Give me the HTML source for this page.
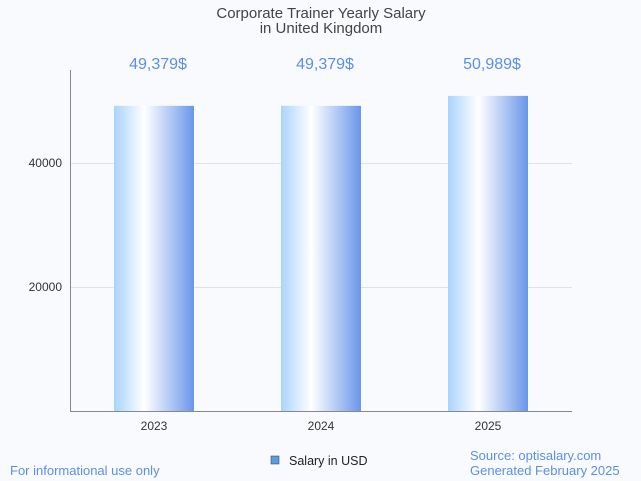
<!DOCTYPE html>
<html><head><meta charset="utf-8"><style>
body{margin:0;background:#f9fafe;font-family:"Liberation Sans",sans-serif;}
svg{display:block}
</style></head><body>
<svg id="c" width="641" height="481">
<defs><linearGradient id="g" x1="0" x2="1" y1="0" y2="0">
<stop offset="0" stop-color="#a9d4fd"/><stop offset="0.38" stop-color="#ffffff"/><stop offset="1" stop-color="#6a96ea"/>
</linearGradient></defs>
<rect width="641" height="481" fill="#f9fafe"/>
<text x="321" y="18" text-anchor="middle" font-size="15" fill="#444">Corporate Trainer Yearly Salary</text>
<text x="321" y="33" text-anchor="middle" font-size="15" fill="#444">in United Kingdom</text>
<g id="grid"></g><g id="bars"></g>
<line x1="70.5" y1="70" x2="70.5" y2="411.5" stroke="#888"/>
<line x1="70" y1="411.5" x2="572" y2="411.5" stroke="#888"/>
<rect x="271" y="456" width="8" height="8" fill="#5b9be0" stroke="#335" stroke-width="0.5"/>
<text x="289" y="465" font-size="12.5" fill="#222">Salary in USD</text>
<text x="10" y="475" font-size="13" fill="#5b8fe6">For informational use only</text>
<text x="470" y="460" font-size="13" fill="#5b8fe6">Source: optisalary.com</text>
<text x="470" y="475" font-size="13" fill="#5b8fe6">Generated February 2025</text>
</svg>
<script>
const categories=["2023","2024","2025"];
const values=[49379,49379,50989];
const labels=["49,379$","49,379$","50,989$"];
const ticks=[20000,40000];
const y=v=>411-v*(124/20000);
const x=i=>154+i*167;
const ns="http://www.w3.org/2000/svg";
const grid=document.getElementById("grid"),bars=document.getElementById("bars");
function mk(tag,attrs,parent){const e=document.createElementNS(ns,tag);for(const k in attrs)e.setAttribute(k,attrs[k]);parent.appendChild(e);return e;}
ticks.forEach(t=>{
 const l=mk("line",{x1:70,x2:572,y1:Math.round(y(t))+0.5,y2:Math.round(y(t))+0.5,stroke:"#e2e2e2"},grid);
 
 
 const tx=mk("text",{x:62,y:y(t)+4,"text-anchor":"end","font-size":12,fill:"#333"},grid);tx.textContent=t;
 
 
});
categories.forEach((c,i)=>{
 const r=mk("rect",{x:x(i)-40,y:y(values[i])+1,width:80,height:410-y(values[i]),fill:"url(#g)"},bars);
 
 
 const v=mk("text",{x:x(i)+4,y:69,"text-anchor":"middle","font-size":16,fill:"#5b8fe6"},bars);v.textContent=labels[i];
 
 
 const t=mk("text",{x:x(i),y:430,"text-anchor":"middle","font-size":12,fill:"#333"},bars);t.textContent=c;
 
 
});
</script>
</body></html>
